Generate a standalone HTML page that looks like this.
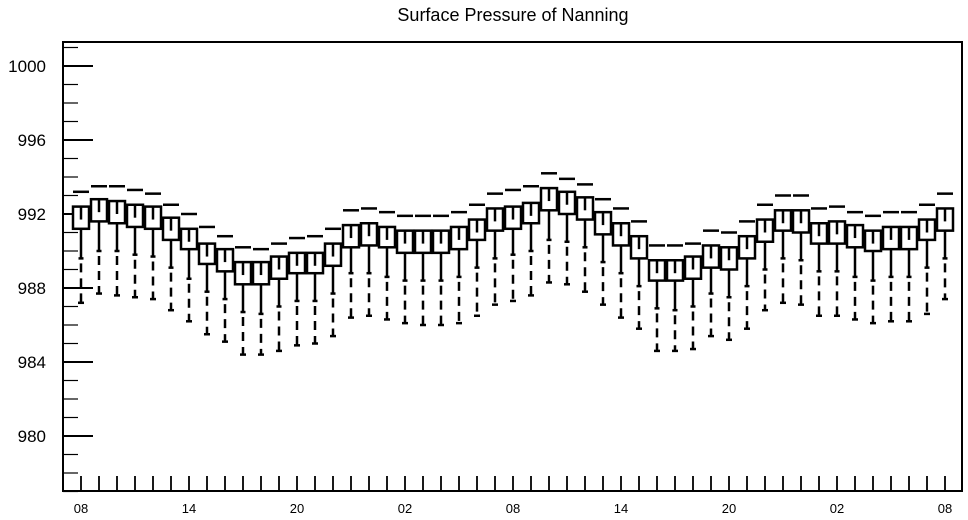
<!DOCTYPE html>
<html><head><meta charset="utf-8"><style>
html,body{margin:0;padding:0;background:#fff;}
svg{display:block;font-family:"Liberation Sans",sans-serif;}
</style></head><body>
<svg id="chart" width="968" height="520" viewBox="0 0 968 520" xmlns="http://www.w3.org/2000/svg">
<text x="513" y="21" text-anchor="middle" font-size="18" fill="#000">Surface Pressure of Nanning</text>
<rect x="63" y="42" width="899" height="449" fill="none" stroke="#000" stroke-width="2"/>
<g id="yaxis"></g>
<g id="xaxis"></g>
<g id="boxes"></g>
</svg>
<script>
const xLabels = ["08","14","20","02","08","14","20","02","08"];
const yTicks = [980,984,988,992,996,1000];
const maxV = [993.2,993.5,993.5,993.3,993.1,992.5,992.0,991.3,990.8,990.2,990.1,990.4,990.7,990.8,991.2,992.2,992.3,992.1,991.9,991.9,991.9,992.1,992.5,993.1,993.3,993.5,994.2,993.9,993.6,992.8,992.3,991.6,990.3,990.3,990.4,991.1,991.0,991.6,992.5,993.0,993.0,992.3,992.4,992.1,991.9,992.1,992.1,992.5,993.1];
const q3V = [992.4,992.8,992.7,992.5,992.4,991.8,991.2,990.4,990.1,989.4,989.4,989.7,989.9,989.9,990.4,991.4,991.5,991.3,991.1,991.1,991.1,991.3,991.7,992.3,992.4,992.6,993.4,993.2,992.9,992.1,991.5,990.8,989.5,989.5,989.7,990.3,990.2,990.8,991.7,992.2,992.2,991.5,991.6,991.4,991.1,991.3,991.3,991.7,992.3];
const medV = [991.7,992.1,992.0,991.8,991.7,991.1,990.5,989.7,989.4,988.7,988.7,989.0,989.2,989.2,989.7,990.7,990.8,990.6,990.4,990.4,990.4,990.6,991.0,991.6,991.7,991.9,992.7,992.5,992.2,991.4,990.8,990.1,988.8,988.8,989.0,989.6,989.5,990.1,991.0,991.5,991.5,990.8,990.9,990.7,990.4,990.6,990.6,991.0,991.6];
const q1V = [991.2,991.6,991.5,991.3,991.2,990.6,990.1,989.3,988.9,988.2,988.2,988.5,988.8,988.8,989.2,990.2,990.3,990.2,989.9,989.9,989.9,990.1,990.6,991.1,991.2,991.5,992.2,992.0,991.7,990.9,990.3,989.6,988.4,988.4,988.5,989.1,989.0,989.6,990.5,991.1,991.0,990.4,990.4,990.2,990.0,990.1,990.1,990.6,991.1];
const lowV = [989.6,990.0,990.0,989.8,989.7,989.1,988.5,987.8,987.4,986.7,986.6,987.0,987.3,987.3,987.7,988.8,988.8,988.6,988.4,988.4,988.4,988.6,989.1,989.6,989.8,990.0,990.6,990.5,990.2,989.4,988.8,988.1,986.9,986.8,987.0,987.7,987.5,988.1,989.0,989.6,989.5,988.9,988.9,988.6,988.4,988.6,988.6,989.1,989.6];
const minV = [987.2,987.7,987.6,987.5,987.4,986.8,986.2,985.5,985.1,984.4,984.4,984.6,984.9,985.0,985.4,986.4,986.5,986.3,986.1,986.0,986.0,986.1,986.5,987.1,987.3,987.6,988.3,988.2,987.8,987.1,986.4,985.8,984.6,984.6,984.7,985.4,985.2,985.8,986.8,987.2,987.1,986.5,986.5,986.3,986.1,986.2,986.2,986.6,987.4];

const NS = "http://www.w3.org/2000/svg";
function yS(v){ return 66 + (1000 - v) * 18.5; }
function xS(i){ return 81 + i * 18; }
function mk(tag, attrs, parent){
  const e = document.createElementNS(NS, tag);
  for (const k in attrs) e.setAttribute(k, attrs[k]);
  parent.appendChild(e);
  return e;
}
const yg = document.getElementById('yaxis');
for (let v = 977; v <= 1001; v++) {
  const major = yTicks.includes(v);
  const t = mk('line', {x1:63, x2: major ? 93 : 78, y1:yS(v), y2:yS(v), stroke:'#000', 'stroke-width': major ? 2 : 1.2}, yg);
  
  
}
yTicks.forEach(v => {
  const t = mk('text', {x:46, y:yS(v)+6, 'text-anchor':'end', 'font-size':17, fill:'#000'}, yg);
  t.textContent = v;
  
  
});
const xg = document.getElementById('xaxis');
for (let i = 0; i < maxV.length; i++) {
  const t = mk('line', {x1:xS(i), x2:xS(i), y1:491, y2:476, stroke:'#000', 'stroke-width':1.8}, xg);
  
  
}
xLabels.forEach((s, k) => {
  const t = mk('text', {x:xS(k*6), y:513, 'text-anchor':'middle', 'font-size':13, fill:'#000'}, xg);
  t.textContent = s;
  
  
});
const bg = document.getElementById('boxes');
for (let i = 0; i < maxV.length; i++) {
  const x = xS(i);
  const g = mk('g', {}, bg);
  
  
  mk('line', {x1:x-8, x2:x+8, y1:yS(maxV[i]), y2:yS(maxV[i]), stroke:'#000', 'stroke-width':2.5}, g);
  mk('rect', {x:x-8, y:yS(q3V[i]), width:16, height:yS(q1V[i])-yS(q3V[i]), fill:'#fff', stroke:'#000', 'stroke-width':2.5}, g);
  mk('line', {x1:x, x2:x, y1:yS(q3V[i]), y2:yS(medV[i]), stroke:'#000', 'stroke-width':2.5}, g);
  mk('line', {x1:x, x2:x, y1:yS(q1V[i]), y2:yS(lowV[i]), stroke:'#000', 'stroke-width':2.5}, g);
  mk('line', {x1:x-2.5, x2:x+2.5, y1:yS(lowV[i]), y2:yS(lowV[i]), stroke:'#000', 'stroke-width':2.5}, g);
  mk('line', {x1:x, x2:x, y1:yS(lowV[i])+5, y2:yS(minV[i]), stroke:'#000', 'stroke-width':2.5, 'stroke-dasharray':'9,6'}, g);
  mk('line', {x1:x-3, x2:x+3, y1:yS(minV[i]), y2:yS(minV[i]), stroke:'#000', 'stroke-width':2.5}, g);
}
</script>
</body></html>
